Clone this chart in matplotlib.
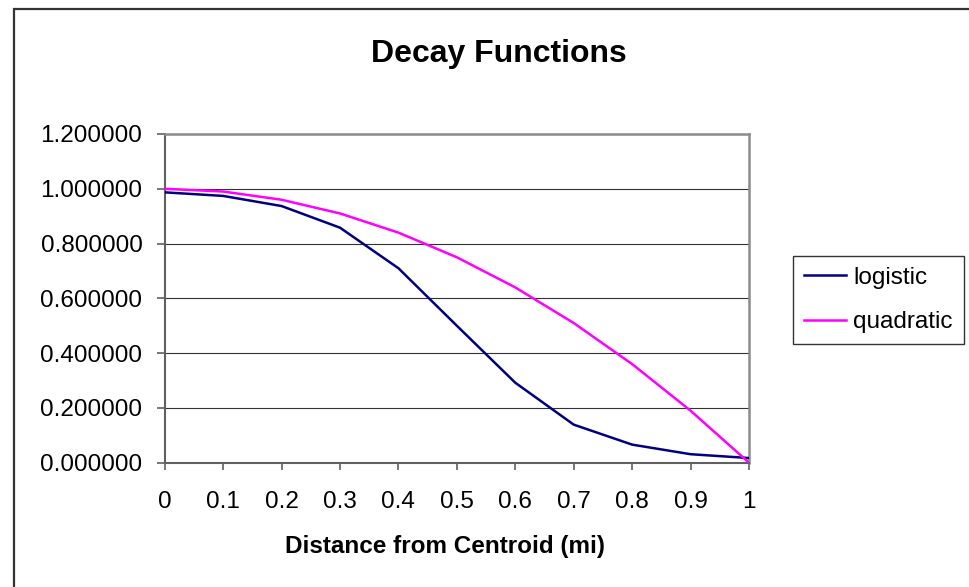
import matplotlib
matplotlib.use("Agg")
import matplotlib.pyplot as plt
from matplotlib.patches import Rectangle
from matplotlib.ticker import FormatStrFormatter, MultipleLocator

plt.rcParams['font.family'] = ['Liberation Sans', 'DejaVu Sans']

distance = [0.0, 0.1, 0.2, 0.3, 0.4, 0.5, 0.6, 0.7, 0.8, 0.9, 1.0]
logistic = [0.987, 0.974, 0.937, 0.858, 0.710, 0.500, 0.292, 0.139, 0.066, 0.031, 0.017]
quadratic = [1.000, 0.990, 0.960, 0.910, 0.840, 0.750, 0.640, 0.510, 0.360, 0.190, 0.000]
x_ticks = [0.0, 0.1, 0.2, 0.3, 0.4, 0.5, 0.6, 0.7, 0.8, 0.9, 1.0]
x_tick_labels = ['0', '0.1', '0.2', '0.3', '0.4', '0.5', '0.6', '0.7', '0.8', '0.9', '1']

W, H = 970, 587
fig = plt.figure(figsize=(W / 100, H / 100), dpi=100)
fig.patch.set_facecolor('white')

# outer chart border (extends beyond the image on right/bottom)
fig.patches.append(Rectangle((14 / W, -0.2), 1.2, 1 - 9 / H + 0.2,
                             transform=fig.transFigure, fill=False,
                             edgecolor='#333333', linewidth=1.6, zorder=0))

left, right, top, bottom = 164.7, 749.0, 134.0, 462.7
ax = fig.add_axes([left / W, 1 - bottom / H, (right - left) / W, (bottom - top) / H])

ax.plot(distance, logistic, color='#000080', linewidth=1.8, label='logistic', zorder=3)
ax.plot(distance, quadratic, color='#FF00FF', linewidth=1.8, label='quadratic', zorder=3)

ax.set_xlim(0, 1)
ax.set_ylim(0, 1.2)
ax.yaxis.set_major_locator(MultipleLocator(0.2))
ax.yaxis.set_major_formatter(FormatStrFormatter('%.6f'))
ax.set_xticks(x_ticks)
ax.set_xticklabels(x_tick_labels)

ax.grid(axis='y', color='#333333', linewidth=0.8, zorder=1)
ax.set_axisbelow(True)
for side in ['left', 'bottom']:
    ax.spines[side].set_color('#606060')
    ax.spines[side].set_linewidth(1.5)
for side in ['top', 'right']:
    ax.spines[side].set_color('#8c8c8c')
    ax.spines[side].set_linewidth(1.8)

ax.tick_params(axis='y', direction='out', length=6, width=1.2, color='#606060',
               labelsize=17.5, pad=10)
ax.tick_params(axis='x', direction='out', length=5, width=1.2, color='#606060',
               labelsize=17.5, pad=15.5)

fig.text(498.5 / W, 1 - 62 / H, 'Decay Functions', fontsize=23, fontweight='bold',
         ha='center', va='baseline')
fig.text(445 / W, 1 - 553 / H, 'Distance from Centroid (mi)', fontsize=17.5,
         fontweight='bold', ha='center', va='baseline')

leg = fig.legend(loc='upper left', bbox_to_anchor=(792.7 / W, 1 - 256 / H),
                 fontsize=17.5, frameon=True, fancybox=False, shadow=False,
                 borderpad=0.45, labelspacing=0.92, handlelength=1.75,
                 handletextpad=0.3, borderaxespad=0)
leg.get_frame().set_edgecolor('black')
leg.get_frame().set_linewidth(1.0)

fig.savefig('out.png', dpi=100, facecolor='white')
